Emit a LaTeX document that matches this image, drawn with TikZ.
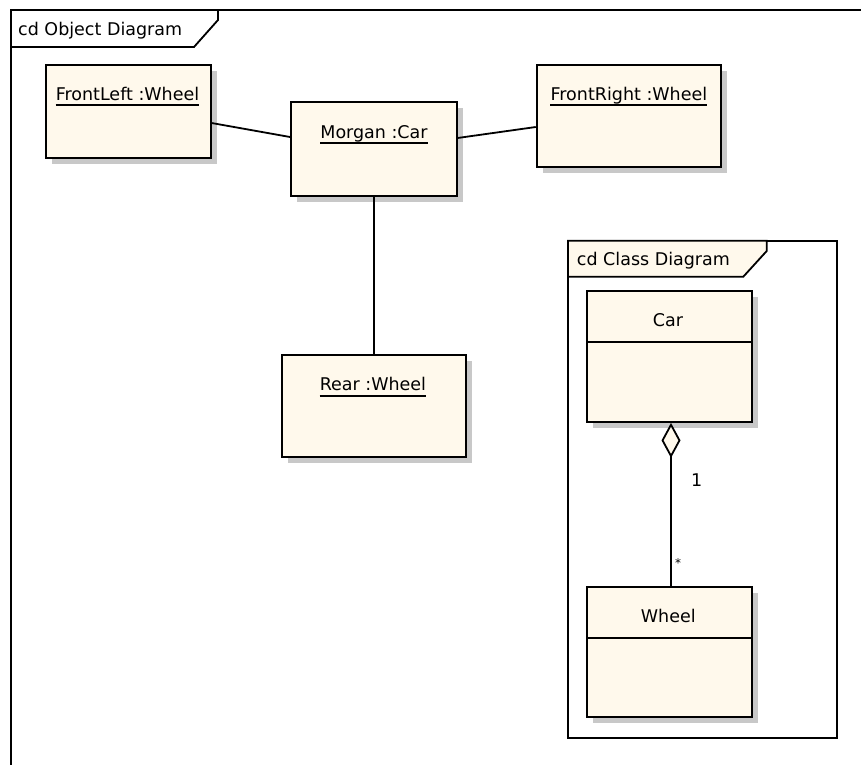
\documentclass[tikz,border=0pt]{standalone}
\usepackage{fontspec}
\setmainfont{DejaVu Sans}
\usetikzlibrary{shadows,arrows.meta}
\definecolor{cream}{HTML}{FFF9EC}
\definecolor{shgray}{HTML}{C8C8C8}
\begin{document}
\begin{tikzpicture}[x=1pt,y=-1pt,
  box/.style={draw=black,fill=cream,line width=1.8pt,inner sep=0pt,
    drop shadow={shadow xshift=6pt,shadow yshift=-6pt,fill=shgray,opacity=1}},
  lbl/.style={inner sep=0pt,anchor=base,font=\fontsize{17.5}{20}\selectfont},
  uline/.style={line width=2pt},
  conn/.style={line width=1.8pt},
  frame/.style={draw=black,line width=1.8pt}]
\useasboundingbox (0,0) rectangle (861,764);
\clip (0,0) rectangle (861,764);
% outer frame
\draw[frame] (11,780) -- (11,10) -- (880,10);
\draw[frame,fill=white] (11,10) -- (218,10) -- (218,20) -- (194,47) -- (11,47) -- cycle;
\node[lbl,anchor=base west] (odt) at (18,35) {cd Object Diagram};
% object boxes
\node[box,minimum width=165pt,minimum height=93pt] (FL) at (128.2,111.5) {};
\node[box,minimum width=165.7pt,minimum height=93.7pt] (MC) at (373.8,148.8) {};
\node[box,minimum width=184.3pt,minimum height=102pt] (FR) at (628.8,116) {};
\node[box,minimum width=183.4pt,minimum height=102.3pt] (RW) at (374,406) {};
\node[lbl] (FLt) at (127.5,100) {FrontLeft :Wheel};
\node[lbl] (MCt) at (374,138.3) {Morgan :Car};
\node[lbl] (FRt) at (628.9,100) {FrontRight :Wheel};
\node[lbl] (RWt) at (372.9,390.7) {Rear :Wheel};
\foreach \t in {FLt,MCt,FRt,RWt}
  \draw[uline] ([yshift=-5pt]\t.base west) -- ([yshift=-5pt]\t.base east);
% links
\draw[conn] ([yshift=-11.5pt]FL.east) -- ([yshift=11.8pt]MC.west);
\draw[conn] ([yshift=10.8pt]MC.east) -- ([yshift=-11pt]FR.west);
\draw[conn] (MC.south) -- (MC.south |- RW.north);
% class diagram frame
\draw[frame] (568,240.7) rectangle (836.7,738);
\draw[frame,fill=cream] (568,240.7) -- (766.7,240.7) -- (766.7,251) -- (743.3,276.7) -- (568,276.7) -- cycle;
\node[lbl,anchor=base west] (cdt) at (576.7,265) {cd Class Diagram};
% classes
\node[box,minimum width=165pt,minimum height=131pt] (Car) at (669.5,356.5) {};
\node[box,minimum width=165pt,minimum height=130pt] (Wheel) at (669.5,651.7) {};
\draw[line width=1.8pt] (Car.west |- 0,342) -- (Car.east |- 0,342);
\draw[line width=1.8pt] (Wheel.west |- 0,638) -- (Wheel.east |- 0,638);
\node[lbl] (Cart) at (668,326.7) {Car};
\node[lbl] (Wheelt) at (668.3,622.7) {Wheel};
\draw[conn,{Diamond[fill=cream,length=35pt,width=19pt]}-] ([xshift=1.5pt]Car.south) -- ([xshift=1.5pt]Wheel.north);
\node[lbl] (m1) at (696.7,486.7) {1};
\node[inner sep=0pt,font=\fontsize{12}{14}\selectfont] (m2) at (678,563.5) {*};
\end{tikzpicture}
\end{document}
